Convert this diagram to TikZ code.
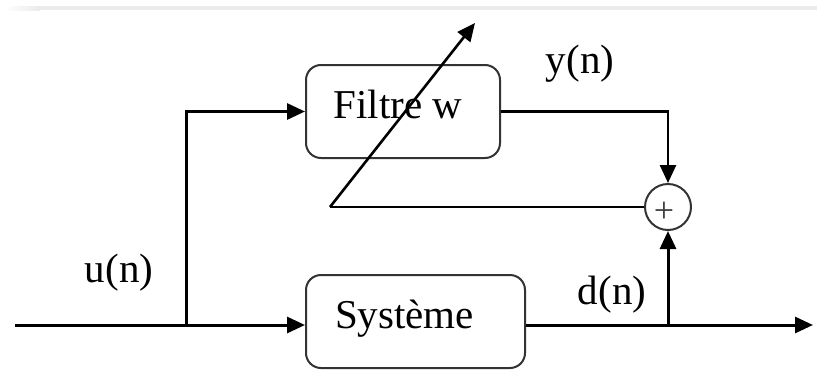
\documentclass[tikz,border=0pt]{standalone}
\usepackage{fontspec}
\setmainfont{Liberation Serif}
\usetikzlibrary{arrows.meta}

\begin{document}
\begin{tikzpicture}[x=1pt,y=-1pt,
  every node/.style={font=\fontsize{41}{43}\selectfont},
  block/.style={draw=black!80, line width=2pt, rounded corners=15pt, fill=white,
    minimum height=93pt, inner sep=0pt, text height=27pt, text depth=14pt},
  sumnode/.style={draw=black!80, line width=2pt, circle, minimum size=46pt, inner sep=0pt},
  sig/.style={line width=3pt, -{Triangle[length=18pt,width=16pt]}},
  wire/.style={line width=2.6pt},
  lab/.style={inner sep=0pt}
]
\useasboundingbox (0,0) rectangle (817,370);

% thin grey rule along the top edge
\shade[left color=white, right color=black!8] (4,6) rectangle (40,10);
\fill[black!8] (40,6) rectangle (817,10);

% blocks (text set a little left of centre)
\node[block, minimum width=194pt] (filt) at (403,111.5) {Filtre w\kern10pt};
\node[block, minimum width=219pt] (sys) at (415.5,321.5) {Système\kern22pt};
\node[sumnode] (sum) at (668,207) {};
\node[lab, font=\fontsize{36}{38}\selectfont, text=black!75] (plus) at (664,212) {+};

% junction points
\coordinate (in) at (15,325);
\coordinate (br) at (186,325);
\coordinate (tap) at (668,325);
\coordinate (out) at (813,325);
\coordinate (adj0) at (330,207);
\coordinate (adj1) at (475,23);

% signal paths
\draw[line width=3pt] (in) -- (br);
\draw[sig] (br) -- (br -| sys.west);
\draw[sig] (br) |- (filt.west);
\draw[line width=3pt] (tap -| sys.east) -- (tap);
\draw[sig] (tap) -- (out);
\draw[sig] (tap) -- (sum.south);
\draw[sig, line width=2.6pt] (filt.east) -| (sum.north);

% error feedback and adaptation arrow
\draw[wire] (sum.west) -- (adj0);
\draw[sig, line width=2.6pt] (adj0) -- (adj1);

% signal labels
\node[lab] (yn) at (580,64) {y(n)};
\node[lab] (un) at (119,273) {u(n)};
\node[lab] (dn) at (612,295) {d(n)};
\end{tikzpicture}
\end{document}
